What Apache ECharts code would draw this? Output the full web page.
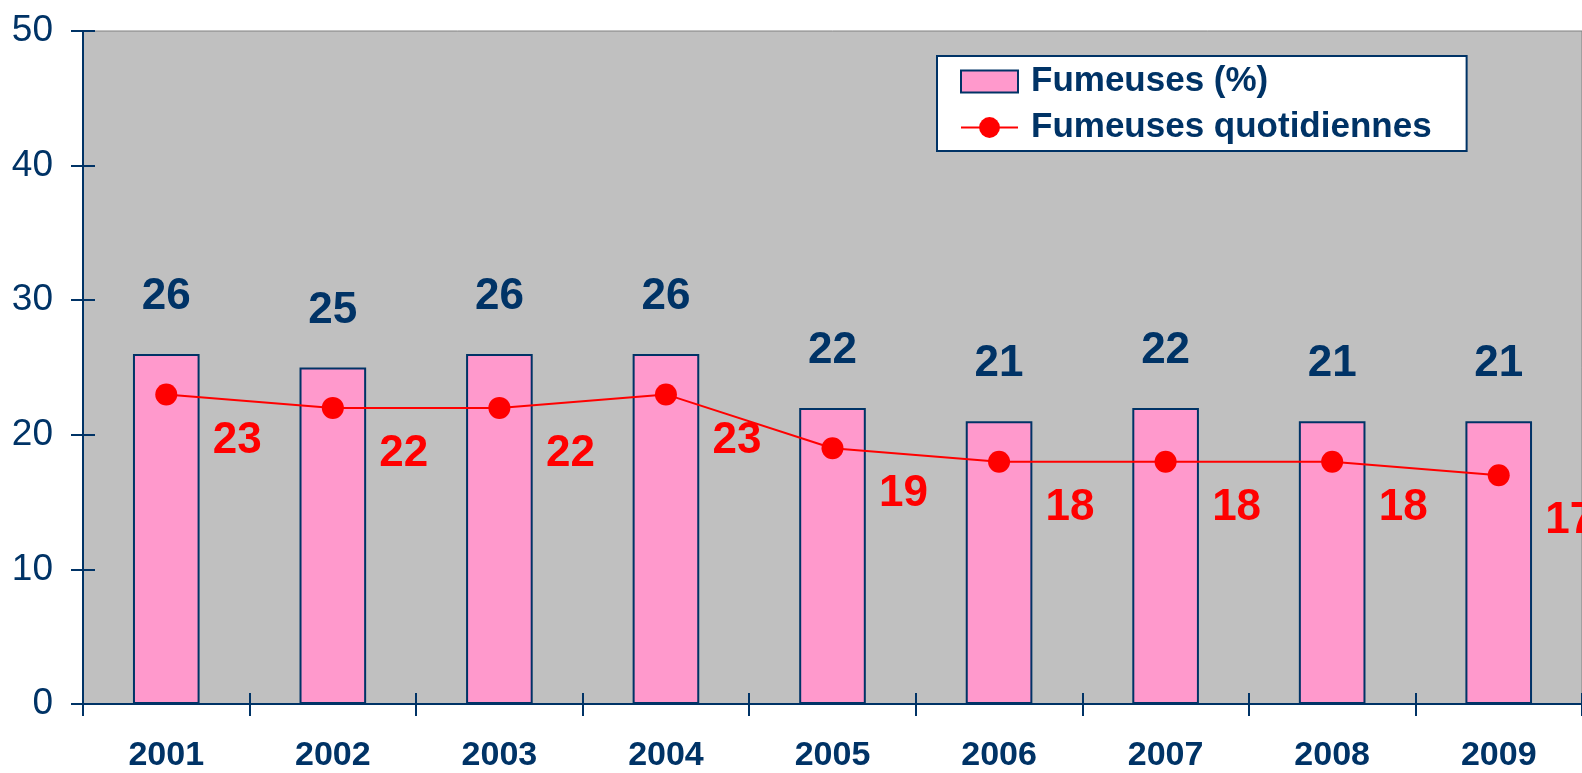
<!DOCTYPE html>
<html>
<head>
<meta charset="utf-8">
<style>
html,body{margin:0;padding:0;background:#fff;}
#chart{width:1582px;height:773px;}
</style>
</head>
<body>
<div id="chart"></div>
<script src="https://cdn.jsdelivr.net/npm/echarts@6/dist/echarts.min.js"></script>
<script type="text/javascript">
	var years=["2001","2002","2003","2004","2005","2006","2007","2008","2009"];
	var fumeuses=[26,25,26,26,22,21,22,21,21];
	var quotidiennes=[23,22,22,23,19,18,18,18,17];
	var yTicks=[0,10,20,30,40,50];

	var navy='#003366';
	var font='"Liberation Sans", Arial, sans-serif';

	var chart=echarts.init(document.getElementById('chart'));
	var option={
		animation:false,
		textStyle:{fontFamily:font},
		grid:{
			left:83,right:-14,top:31,bottom:69,
			show:true,backgroundColor:'#C0C0C0',borderColor:'#808080',borderWidth:1
		},
		legend:{
			orient:'vertical',
			left:937,top:56,
			padding:[8,35,6,23],
			itemGap:11,
			itemWidth:57,itemHeight:26,
			backgroundColor:'#fff',borderColor:navy,borderWidth:2,
			textStyle:{color:navy,fontSize:35,fontWeight:'bold',fontFamily:font,lineHeight:35,padding:[0,0,0,8]},
			data:[
				{name:'Fumeuses (%)',icon:'path://M0,0H57V22H0Z'},
				{name:'Fumeuses quotidiennes'}
			]
		},
		xAxis:[{
			type:'category',
			data:years,
			position:'bottom',
			axisLine:{show:true,lineStyle:{color:navy,width:2}},
			axisTick:{show:true,length:12,lineStyle:{color:navy,width:2}},
			axisLabel:{color:navy,fontSize:34,fontWeight:'bold',fontFamily:font,margin:35}
		},{
			type:'category',
			data:years,
			position:'bottom',
			axisLine:{show:true,lineStyle:{color:'rgba(0,0,0,0)',width:0}},
			axisTick:{show:true,inside:true,length:11,lineStyle:{color:navy,width:2}},
			axisLabel:{show:false}
		}],
		yAxis:[{
			type:'value',
			min:yTicks[0],max:yTicks[yTicks.length-1],interval:10,
			splitLine:{show:false},
			axisLine:{show:true,lineStyle:{color:navy,width:2}},
			axisTick:{show:true,length:12,lineStyle:{color:navy,width:2}},
			axisLabel:{color:navy,fontSize:37,fontFamily:font,margin:30}
		},{
			type:'value',
			position:'left',
			min:yTicks[0],max:yTicks[yTicks.length-1],interval:10,
			splitLine:{show:false},
			axisLine:{show:true,lineStyle:{color:'rgba(0,0,0,0)',width:0}},
			axisTick:{show:true,inside:true,length:12,lineStyle:{color:navy,width:2}},
			axisLabel:{show:false}
		}],
		series:[{
			name:'Fumeuses (%)',
			type:'bar',
			barWidth:'40%',
			data:fumeuses,
			itemStyle:{color:'#FF99CC',borderColor:navy,borderWidth:2},
			label:{show:true,position:'top',distance:35,color:navy,fontSize:44,fontWeight:'bold',fontFamily:font}
		},{
			name:'Fumeuses quotidiennes',
			type:'line',
			data:quotidiennes,
			symbol:'circle',
			symbolSize:22,
			lineStyle:{color:'#FF0000',width:2},
			itemStyle:{color:'#FF0000'},
			label:{show:true,position:'inside',offset:[71,46],color:'#FF0000',fontSize:44,fontWeight:'bold',fontFamily:font}
		}]
	};
	chart.setOption(option);
</script>
</body>
</html>
